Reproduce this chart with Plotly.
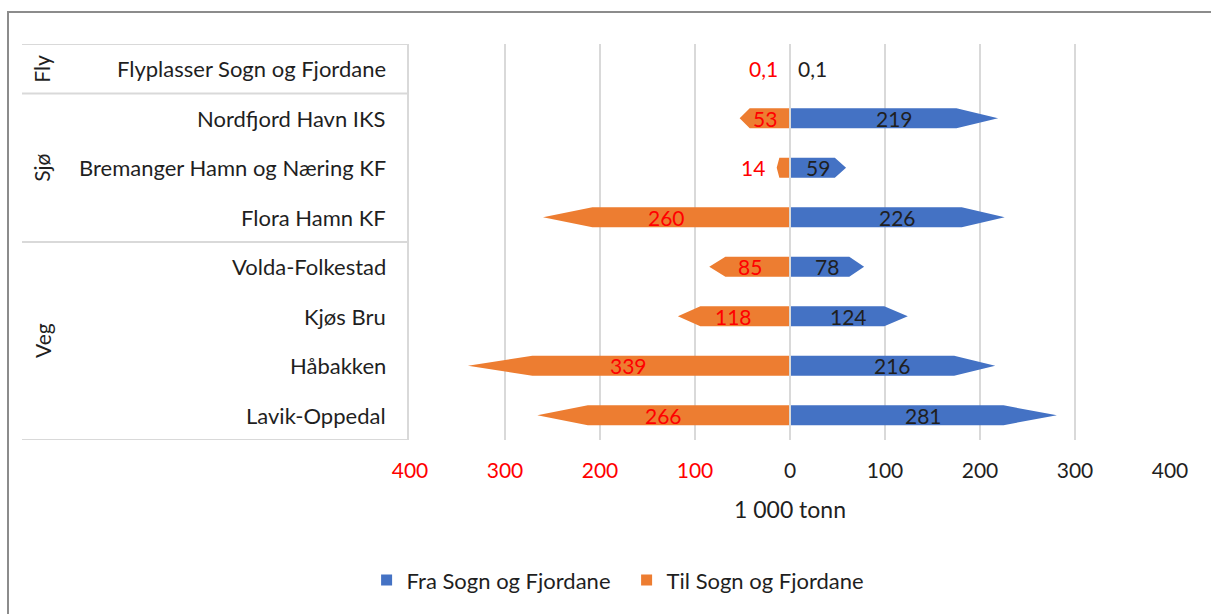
import plotly.graph_objects as go

# Freight through Sogn og Fjordane, 1 000 tonn
terminals = [
    "Flyplasser Sogn og Fjordane",
    "Nordfjord Havn IKS",
    "Bremanger Hamn og Næring KF",
    "Flora Hamn KF",
    "Volda-Folkestad",
    "Kjøs Bru",
    "Håbakken",
    "Lavik-Oppedal",
]
groups = ["Fly", "Sjø", "Sjø", "Sjø", "Veg", "Veg", "Veg", "Veg"]
fra_values = [0.1, 219, 59, 226, 78, 124, 216, 281]   # Fra Sogn og Fjordane
til_values = [0.1, 53, 14, 260, 85, 118, 339, 266]    # Til Sogn og Fjordane
tick_values = [-400, -300, -200, -100, 0, 100, 200, 300, 400]

BLUE = "#4472C4"
ORANGE = "#ED7D31"
RED = "#FF0000"
TXT = "#1F1F1F"
GRID = "#D9D9D9"
FONT = "Lato"
FS = 21

n = len(terminals)
rows = [n - 1 - i for i in range(n)]  # first terminal on top
HALF = 0.2      # half bar thickness in row units
HEAD = 0.2      # arrow head share of bar length

fig = go.Figure()


def arrow_trace(values, sign, color):
    xs, ys = [], []
    for v, r in zip(values, rows):
        v = sign * v
        body = v * (1 - HEAD)
        xs += [0, body, v, body, 0, 0, None]
        ys += [r - HALF, r - HALF, r, r + HALF, r + HALF, r - HALF, None]
    return go.Scatter(
        x=xs, y=ys, mode="lines", fill="toself", fillcolor=color,
        line=dict(color=color, width=0), showlegend=False, hoverinfo="skip",
    )


fig.add_trace(arrow_trace(fra_values, 1, BLUE))
fig.add_trace(arrow_trace(til_values, -1, ORANGE))

# legend entries
for name, color in [("Fra Sogn og Fjordane", BLUE), ("Til Sogn og Fjordane", ORANGE)]:
    fig.add_trace(go.Scatter(x=[None], y=[None], mode="markers", name=name,
                             marker=dict(symbol="square", size=11, color=color)))

annotations = []
# value labels: inside the arrow when there is room, otherwise just outside
for v, r in zip(fra_values, rows):
    txt = f"{v:g}".replace(".", ",")
    if v >= 25:
        annotations.append(dict(x=v * 0.5, y=r, text=txt, showarrow=False,
                                xref="x", yref="y", font=dict(color=TXT, size=FS)))
    else:
        annotations.append(dict(x=v, y=r, text=txt, showarrow=False, xanchor="left",
                                xshift=6, xref="x", yref="y", font=dict(color=TXT, size=FS)))
for v, r in zip(til_values, rows):
    txt = f"{v:g}".replace(".", ",")
    if v >= 25:
        annotations.append(dict(x=-v * 0.5, y=r, text=txt, showarrow=False,
                                xref="x", yref="y", font=dict(color=RED, size=FS)))
    else:
        annotations.append(dict(x=-v, y=r, text=txt, showarrow=False, xanchor="right",
                                xshift=-10, xref="x", yref="y", font=dict(color=RED, size=FS)))

# terminal names in the left-hand table
for name, r in zip(terminals, rows):
    annotations.append(dict(x=-0.029, y=r, xref="paper", yref="y", text=name,
                            showarrow=False, xanchor="right",
                            font=dict(color=TXT, size=22)))

# group labels, rotated, and the table rules between groups
shapes = []
TABLE_L, TABLE_R = (22 - 410) / 760, (408 - 410) / 760
start = 0
bounds = [n - 0.5]
for i in range(1, n + 1):
    if i == n or groups[i] != groups[start]:
        top, bottom = rows[start], rows[i - 1]
        annotations.append(dict(x=(42 - 410) / 760, y=(top + bottom) / 2, xref="paper",
                                yref="y", xanchor="center", yanchor="middle",
                                text=groups[start], showarrow=False, textangle=-90,
                                font=dict(color=TXT, size=FS)))
        bounds.append(bottom - 0.5)
        start = i
for b in bounds:
    shapes.append(dict(type="line", xref="paper", yref="y", x0=TABLE_L, x1=TABLE_R,
                       y0=b, y1=b, line=dict(color=GRID, width=2)))
shapes.append(dict(type="line", xref="paper", yref="y", x0=TABLE_R, x1=TABLE_R,
                   y0=-0.5, y1=n - 0.5, line=dict(color=GRID, width=2)))
# zero line drawn over the arrows
shapes.append(dict(type="line", xref="x", yref="y", x0=0, x1=0, y0=-0.5, y1=n - 0.5,
                   line=dict(color=GRID, width=2), layer="above"))
# chart frame
shapes.append(dict(type="rect", xref="paper", yref="paper",
                   x0=(8 - 410) / 760, x1=(1240 - 410) / 760,
                   y0=(440 - 660) / 396, y1=(440 - 12) / 396,
                   line=dict(color="#8C8C8C", width=2)))

tick_text = [
    f"<span style='color:{RED}'>{abs(t)}</span>" if t < 0 else str(t)
    for t in tick_values
]

fig.update_layout(
    width=1211, height=614,
    margin=dict(l=410, r=41, t=44, b=174),
    paper_bgcolor="white", plot_bgcolor="white",
    font=dict(family=FONT, color=TXT, size=FS),
    showlegend=True,
    legend=dict(orientation="h", x=0.285, xanchor="center", y=-0.354, yanchor="middle",
                font=dict(size=22, color=TXT), bgcolor="rgba(0,0,0,0)",
                entrywidth=215, entrywidthmode="pixels"),
    xaxis=dict(range=[-400, 400], tickvals=tick_values, ticktext=tick_text,
               showgrid=True, gridcolor=GRID, gridwidth=2, zeroline=False,
               showline=False, ticks="", tickfont=dict(size=FS, color=TXT),
               ticklabelstandoff=16,
               title=dict(text="1 000 tonn", font=dict(size=23, color=TXT), standoff=20),
               fixedrange=True),
    yaxis=dict(range=[-0.5, n - 0.5], showticklabels=False, showgrid=False,
               zeroline=False, showline=False, fixedrange=True),
    annotations=annotations,
    shapes=shapes,
)

fig.write_html("out.html")
